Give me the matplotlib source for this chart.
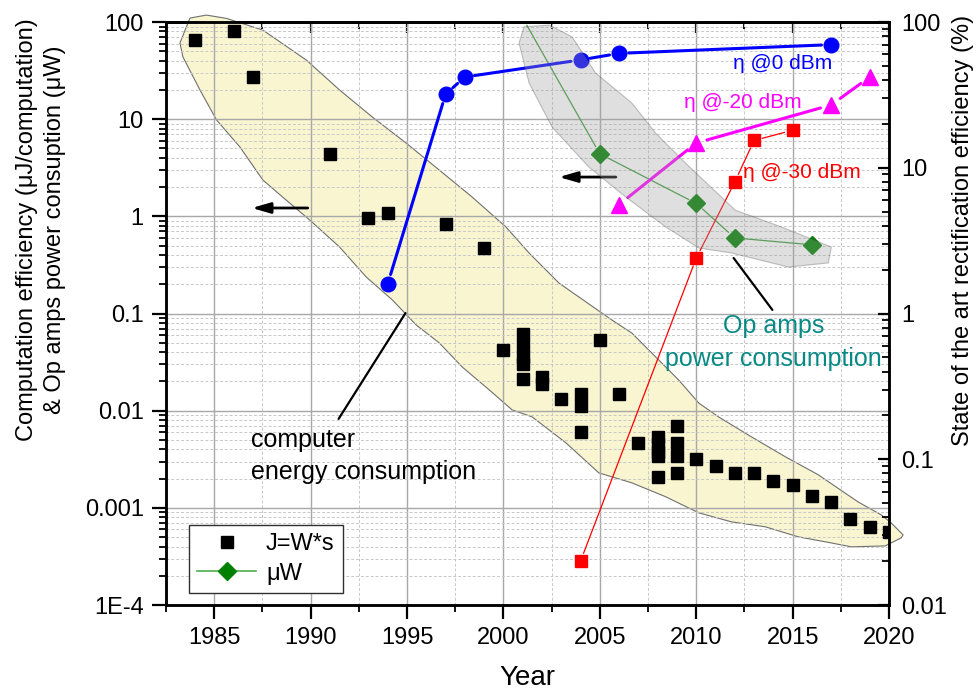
import numpy as np
import matplotlib
matplotlib.use("Agg")
import matplotlib.pyplot as plt
from matplotlib.patches import Polygon
from matplotlib.lines import Line2D
from matplotlib.ticker import FixedLocator, FixedFormatter, MultipleLocator, LogLocator, NullFormatter

plt.rcParams['font.family'] = ['Liberation Sans', 'DejaVu Sans']

# computer energy consumption (uJ/computation), left axis
comp_year = [1984, 1986, 1987, 1991, 1993, 1994, 1997, 1999, 2000,
             2001, 2001, 2001, 2001, 2001, 2002, 2002, 2003,
             2004, 2004, 2004, 2005, 2006, 2007,
             2008, 2008, 2008, 2008, 2008, 2009, 2009, 2009, 2009,
             2010, 2011, 2012, 2013, 2014, 2015, 2016, 2017, 2018, 2019, 2020]
comp_val = [66, 81, 27, 4.35, 0.955, 1.08, 0.83, 0.47, 0.042,
            0.061, 0.046, 0.036, 0.030, 0.021, 0.022, 0.019, 0.0131,
            0.0147, 0.0113, 0.006, 0.054, 0.0148, 0.0047,
            0.0054, 0.0045, 0.0038, 0.0034, 0.0021, 0.0069, 0.0047, 0.0034, 0.0023,
            0.0032, 0.0027, 0.0023, 0.0023, 0.00187, 0.0017, 0.00132, 0.00114,
            0.000765, 0.00064, 0.000566]

# op amps power consumption (uW), left axis (first point lies above the plot)
opamp_year = [2001, 2005, 2010, 2012, 2016]
opamp_val = [110, 4.4, 1.36, 0.60, 0.51]

# rectification efficiency (%), right axis
eta0_year = [1994, 1997, 1998, 2004, 2006, 2017]
eta0_val = [1.6, 32, 42, 55, 61, 70]
eta20_year = [2006, 2010, 2017, 2019]
eta20_val = [5.6, 14.8, 27, 42]
eta30_year = [2004, 2010, 2012, 2013, 2015]
eta30_val = [0.02, 2.4, 8.0, 15.4, 18.1]

# outline of the shaded regions (year, left-axis value)
comp_blob_year = [1983.74, 1984.6, 1985.64, 1987.52, 1989.78, 1991.5, 1993.21, 1994.95, 1996.67,
                  1998.38, 2000.13, 2001.33, 2002.88, 2005.62, 2006.66, 2007.9, 2009.09, 2010.13,
                  2011.16, 2012.87, 2014.63, 2016.33, 2018.4, 2019.59, 2020.11, 2020.73, 2020.63,
                  2019.8, 2018.04, 2017.0, 2015.3, 2013.59, 2011.83, 2010.13, 2008.42, 2006.66,
                  2004.95, 2003.24, 2001.49, 2000.45, 1999.26, 1997.86, 1996.67, 1995.47, 1994.24,
                  1992.88, 1991.5, 1989.95, 1988.55, 1987.52, 1986.33, 1985.12, 1984.26, 1983.38,
                  1983.22]
comp_blob_val = [110, 118, 109, 82.7, 40.6, 20, 10.5, 5.69, 3.0,
                 1.58, 0.778, 0.42, 0.206, 0.0859, 0.063, 0.0357, 0.0207, 0.012,
                 0.00863, 0.00537, 0.00335, 0.00219, 0.00115, 0.000848, 0.000701, 0.000527, 0.000491,
                 0.000406, 0.000397, 0.000436, 0.000503, 0.000638, 0.000718, 0.000889, 0.0013, 0.00181,
                 0.00229, 0.00467, 0.00863, 0.0102, 0.0164, 0.0282, 0.0499, 0.0764, 0.138,
                 0.238, 0.484, 0.918, 1.58, 2.37, 5.18, 9.82, 20, 43.6,
                 60.8]
opamp_blob_year = [2001.07, 2002.37, 2003.56, 2004.78, 2006.66, 2007.89, 2009.44, 2012.02, 2014.42,
                   2017.01, 2016.85, 2014.78, 2011.83, 2010.13, 2008.42, 2006.35, 2004.43, 2002.52,
                   2001.33, 2000.81]
opamp_blob_val = [89.5, 93.1, 70.6, 29.9, 14.7, 7.21, 3.54, 1.16, 0.778,
                  0.484, 0.332, 0.301, 0.42, 0.473, 0.778, 1.58, 3.22, 8.32,
                  23.6, 60.8]

x_ticks = [1985, 1990, 1995, 2000, 2005, 2010, 2015, 2020]
left_ticks = [1e-4, 1e-3, 1e-2, 1e-1, 1, 10, 100]
left_labels = ['1E-4', '0.001', '0.01', '0.1', '1', '10', '100']
right_ticks = [0.01, 0.1, 1, 10, 100]
right_labels = ['0.01', '0.1', '1', '10', '100']


def gap_line(axis, xs, ys, color, lw, gap):
    # Origin style: line segments stop short of the symbols
    for i in range(len(xs) - 1):
        seg = axis.annotate('', xy=(xs[i + 1], ys[i + 1]), xytext=(xs[i], ys[i]),
                            arrowprops=dict(arrowstyle='-', color=color, lw=lw,
                                            shrinkA=gap, shrinkB=gap),
                            annotation_clip=False)
        seg.arrow_patch.set_clip_box(axis.bbox)


fig = plt.figure(figsize=(9.79, 6.94), dpi=100)
ax = fig.add_axes([0.1696, 0.1282, 0.7385, 0.840])
ax.set_yscale('log')
ax.set_xlim(1982.5, 2020)
ax.set_ylim(1e-4, 100)

ax.yaxis.set_major_locator(FixedLocator(left_ticks))
ax.yaxis.set_major_formatter(FixedFormatter(left_labels))
ax.yaxis.set_minor_locator(LogLocator(base=10, subs=np.arange(2, 10)))
ax.yaxis.set_minor_formatter(NullFormatter())
ax.set_xticks(x_ticks)
ax.xaxis.set_minor_locator(MultipleLocator(2.5))

ax.grid(True, which='major', color='#a8a8a8', lw=1.0, ls='-')
ax.grid(True, which='minor', color='#c8c8c8', lw=0.7, ls=(0, (3, 2)))
ax.set_axisbelow(True)

ax.tick_params(axis='both', which='major', labelsize=17, direction='out', length=10, width=1.6)
ax.tick_params(axis='both', which='minor', direction='out', length=5, width=1.3)
ax.tick_params(axis='y', which='major', pad=6)
ax.tick_params(axis='x', which='major', pad=6)
for s in ax.spines.values():
    s.set_linewidth(1.8)

top = ax.secondary_xaxis('top')
top.set_xticks(x_ticks)
top.xaxis.set_minor_locator(MultipleLocator(2.5))
top.tick_params(axis='x', which='major', direction='in', length=8, width=1.6, labeltop=False)
top.tick_params(axis='x', which='minor', direction='in', length=5, width=1.3)
top.spines['top'].set_linewidth(1.8)

# shaded region under the computer data
ax.add_patch(Polygon(np.column_stack([comp_blob_year, comp_blob_val]), closed=True,
                     facecolor='#f8f5d0', edgecolor='#707070', lw=0.8, zorder=0.3, clip_on=False))

# left axis series
ax.plot(comp_year, comp_val, ls='none', marker='s', ms=9, color='black', zorder=2)
gap_line(ax, opamp_year, opamp_val, '#3c9c3c', 0.9, 6)
inside = np.array(opamp_val) <= 100
ax.plot(np.array(opamp_year)[inside], np.array(opamp_val)[inside], ls='none', marker='D', ms=9,
        color='#008000', zorder=2)

# right axis
ax2 = ax.twinx()
ax2.set_yscale('log')
ax2.set_ylim(0.01, 100)
ax2.yaxis.set_major_locator(FixedLocator(right_ticks))
ax2.yaxis.set_major_formatter(FixedFormatter(right_labels))
ax2.yaxis.set_minor_locator(LogLocator(base=10, subs=np.arange(2, 10)))
ax2.yaxis.set_minor_formatter(NullFormatter())
ax2.tick_params(axis='y', which='major', labelsize=17, direction='in', length=8, width=1.6, pad=9)
ax2.tick_params(axis='y', which='minor', direction='in', length=5, width=1.3)
for s in ax2.spines.values():
    s.set_linewidth(1.8)

gap_line(ax2, eta0_year, eta0_val, '#0000ff', 2.2, 7)
ax2.plot(eta0_year, eta0_val, ls='none', marker='o', ms=10.5, color='#0000ff', zorder=2)
gap_line(ax2, eta20_year, eta20_val, '#ff00ff', 2.2, 8)
ax2.plot(eta20_year, eta20_val, ls='none', marker='^', ms=12, color='#ff00ff', zorder=2)
gap_line(ax2, eta30_year, eta30_val, '#ff0000', 0.9, 6)
ax2.plot(eta30_year, eta30_val, ls='none', marker='s', ms=9, color='#ff0000', zorder=2)

# shaded region around op amp data, drawn above everything (semi transparent)
ax2.add_patch(Polygon(np.column_stack([opamp_blob_year, opamp_blob_val]), closed=True,
                      transform=ax.transData, facecolor='#a0a0a0', alpha=0.33,
                      edgecolor='#505050', lw=0.8, zorder=5, clip_on=False))

# labels on the series
ax.text(2014.47, 37.8, 'η @0 dBm', color='#0000ff', fontsize=15, ha='center', va='center')
ax.text(2012.4, 15.0, 'η @-20 dBm', color='#ff00ff', fontsize=15, ha='center', va='center')
ax.text(2015.48, 2.8, 'η @-30 dBm', color='#ff0000', fontsize=15, ha='center', va='center')

ax.text(1986.93, 0.00343, 'computer\nenergy consumption', fontsize=18, ha='left', va='center',
        linespacing=1.45)
ax.annotate('', xy=(1994.92, 0.101), xytext=(1991.45, 0.00824),
            arrowprops=dict(arrowstyle='-', color='black', lw=1.6, shrinkA=0, shrinkB=0))
ax.text(2014.0, 0.0505, 'Op amps\npower consumption', fontsize=18, ha='center', va='center',
        color='#078a86', linespacing=1.45)
ax.annotate('', xy=(2011.94, 0.373), xytext=(2013.95, 0.109),
            arrowprops=dict(arrowstyle='-', color='black', lw=1.6, shrinkA=0, shrinkB=0))

# arrows pointing to the left axis
for x0, x1, yv in [(1989.85, 1986.95, 1.22), (2005.83, 2002.88, 2.54)]:
    ax.annotate('', xy=(x1, yv), xytext=(x0, yv),
                arrowprops=dict(arrowstyle='-|>,head_length=0.55,head_width=0.16', color='black',
                                lw=2, shrinkA=0, shrinkB=0, mutation_scale=20))

handles = [Line2D([], [], ls='none', marker='s', ms=9, color='black'),
           Line2D([], [], ls='-', lw=1.2, color='#4caf4c', marker='D', ms=9,
                  markerfacecolor='#008000', markeredgecolor='#008000')]
leg = ax.legend(handles, ['J=W*s', 'μW'], loc='lower left', bbox_to_anchor=(0.032, 0.021),
                borderaxespad=0, fontsize=17, frameon=True, fancybox=False, framealpha=1,
                edgecolor='#303030', handlelength=2.5, handletextpad=0.4, borderpad=0.35,
                labelspacing=0.3)
leg.get_frame().set_linewidth(1.0)
leg.set_zorder(6)

fig.text(41 / 979, 1 - 230 / 694,
         'Computation efficiency (μJ/computation)\n& Op amps power consuption (μW)',
         rotation=90, ha='center', va='center', fontsize=17, linespacing=1.35)
fig.text(963 / 979, 1 - 230 / 694, 'State of the art rectification efficiency (%)',
         rotation=90, ha='center', va='center', fontsize=17)
fig.text(527 / 979, 1 - 678 / 694, 'Year', ha='center', va='center', fontsize=20)

fig.savefig('out.png', dpi=100)
